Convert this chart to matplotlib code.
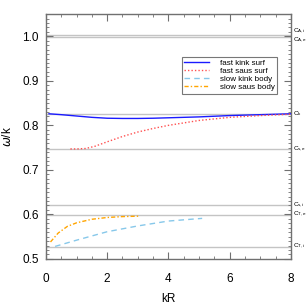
import numpy as np
import matplotlib
matplotlib.use("Agg")
import matplotlib.pyplot as plt
from matplotlib.ticker import MultipleLocator

plt.rcParams["font.family"] = ["Liberation Sans", "DejaVu Sans"]
plt.rcParams["mathtext.fontset"] = "custom"
plt.rcParams["mathtext.rm"] = "Liberation Sans"

# characteristic speeds (horizontal reference lines)
speed_names = ["A,i", "A,e", "k", "s,e", "s,i", "T,e", "T,i"]
speed_values = [1.004, 0.998, 0.826, 0.747, 0.621, 0.599, 0.527]

# dispersion curves
fast_kink_kr = [0.1, 0.5, 1.0, 1.5, 2.0, 2.5, 3.0, 3.5, 4.0, 5.0, 6.0, 7.0, 8.0]
fast_kink_w = [0.826, 0.824, 0.821, 0.818, 0.816, 0.8155, 0.8155, 0.816, 0.817, 0.819, 0.822, 0.824, 0.826]

fast_saus_kr = [0.8, 1.0, 1.3, 1.6, 2.0, 2.5, 3.0, 3.5, 4.0, 5.0, 6.0, 7.0, 8.0]
fast_saus_w = [0.747, 0.747, 0.748, 0.753, 0.763, 0.775, 0.785, 0.793, 0.800, 0.811, 0.818, 0.822, 0.825]

slow_kink_kr = [0.3, 1.0, 2.0, 3.0, 4.0, 5.1]
slow_kink_w = [0.528, 0.542, 0.561, 0.574, 0.585, 0.591]

slow_saus_kr = [0.15, 0.4, 0.7, 1.0, 1.5, 2.0, 2.5, 3.05]
slow_saus_w = [0.538, 0.558, 0.573, 0.581, 0.589, 0.593, 0.595, 0.596]

fig = plt.figure(figsize=(3.06, 3.06), dpi=100)
ax = fig.add_axes([0.150, 0.154, 0.801, 0.800])

# the two Alfven labels sit very close, nudge them apart a little
label_nudge = {"A,i": 2.5, "A,e": -2.5}
for name, val in zip(speed_names, speed_values):
    ax.axhline(val, color="#c4c4c4", lw=1.0, zorder=1)
    ax.annotate(r"C$_{\rm %s}$" % name, xy=(8, val), xytext=(1.5, label_nudge.get(name, 0)),
                textcoords="offset points", fontsize=4.6, va="center", ha="left",
                annotation_clip=False)

ax.plot(fast_kink_kr, fast_kink_w, color="#1a1aff", lw=1.0, label="fast kink surf", zorder=3)
ax.plot(fast_saus_kr, fast_saus_w, color="#ff5050", lw=1.0, ls=(0, (1, 1.5)),
        label="fast saus surf", zorder=3)
ax.plot(slow_kink_kr, slow_kink_w, color="#87c8ea", lw=1.0, ls=(0, (4, 3)),
        label="slow kink body", zorder=3)
ax.plot(slow_saus_kr, slow_saus_w, color="#ffa500", lw=1.0, ls=(0, (3, 1.5, 1, 1.5)),
        label="slow saus body", zorder=3)

ax.set_xlim(0, 8)
ax.set_ylim(0.5, 1.05)
ax.xaxis.set_major_locator(MultipleLocator(2))
ax.xaxis.set_minor_locator(MultipleLocator(0.5))
ax.yaxis.set_major_locator(MultipleLocator(0.1))
ax.yaxis.set_minor_locator(MultipleLocator(0.01))
ax.yaxis.set_major_formatter(plt.FormatStrFormatter("%.1f"))
ax.tick_params(which="both", direction="in", top=True, right=True, color="#707070",
               labelsize=8.5)
ax.tick_params(axis="x", pad=10)
ax.tick_params(axis="y", pad=5)
ax.tick_params(which="major", length=5, width=0.8)
ax.tick_params(which="minor", length=2.5, width=0.6)
for sp in ax.spines.values():
    sp.set_color("#707070")
    sp.set_linewidth(1.0)

ax.set_xlabel("kR", fontsize=8.5, labelpad=6)
ax.set_ylabel(r"$\omega$/k", fontsize=8.5, labelpad=6)

leg = ax.legend(loc="upper left", bbox_to_anchor=(0.555, 0.825), fontsize=5.8,
                frameon=True, fancybox=False, handlelength=3.0, handletextpad=1.4,
                borderpad=0.3, labelspacing=0.05, borderaxespad=0)
leg.get_frame().set_edgecolor("#555555")
leg.get_frame().set_linewidth(0.8)

fig.savefig("out.png", dpi=100)
